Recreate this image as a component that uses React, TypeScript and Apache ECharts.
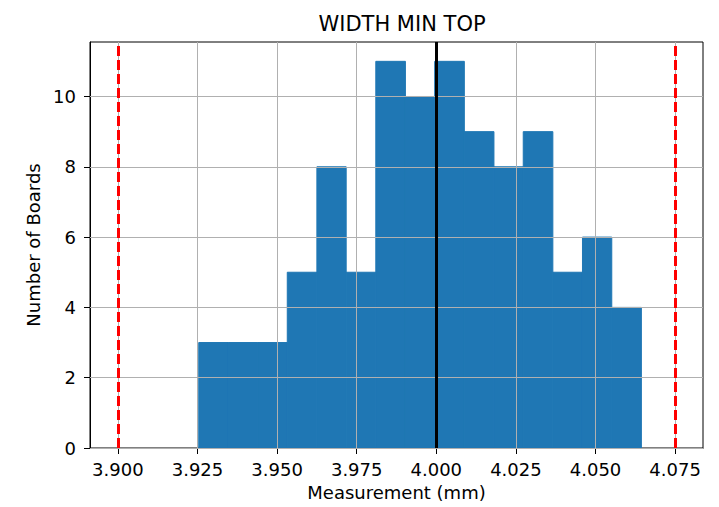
import React, { useEffect, useRef } from "react";
import * as echarts from "echarts";

const binEdges = [
  3.9254, 3.9347, 3.9439, 3.9532, 3.9625, 3.9717, 3.981, 3.9903, 3.9995,
  4.0088, 4.0181, 4.0273, 4.0366, 4.0459, 4.0551, 4.0644,
];
const counts = [3, 3, 3, 5, 8, 5, 11, 10, 11, 9, 8, 9, 5, 6, 4];
const xTicks = [3.9, 3.925, 3.95, 3.975, 4.0, 4.025, 4.05, 4.075];
const yTicks = [0, 2, 4, 6, 8, 10];
const specLimits = [3.9, 4.075];
const nominal = 4.0;
const xRange = [3.89125, 4.08375];
const yRange = [0, 11.55];

const FONT = "DejaVu Sans";

export default function App() {
  const ref = useRef<HTMLDivElement>(null);
  useEffect(() => {
    if (!ref.current) return;
    const chart = echarts.init(ref.current, null, { renderer: "svg" });
    const histData = counts.map((c, i) => [binEdges[i], binEdges[i + 1], c]);
    const gridLineStyle = { color: "#b0b0b0", width: 1, type: "solid" as const };
    chart.setOption({
      animation: false,
      backgroundColor: "#ffffff",
      title: {
        text: "WIDTH MIN TOP",
        left: 397,
        textAlign: "center",
        top: 8,
        textStyle: { fontFamily: FONT, fontSize: 21, fontWeight: "normal", color: "#000" },
      },
      grid: {
        left: 90,
        right: 16,
        top: 42,
        bottom: 59,
        show: true,
        borderColor: "#000",
        borderWidth: 1,
        backgroundColor: "transparent",
      },
      xAxis: {
        type: "value",
        min: xRange[0],
        max: xRange[1],
        name: "Measurement (mm)",
        nameLocation: "middle",
        nameGap: 35,
        nameTextStyle: { fontFamily: FONT, fontSize: 18, color: "#000" },
        axisLine: { show: true, lineStyle: { color: "#000", width: 1 } },
        axisTick: { show: true, inside: false, length: 6, customValues: xTicks, lineStyle: { color: "#000" } },
        axisLabel: {
          customValues: xTicks,
          margin: 12,
          fontFamily: FONT,
          fontSize: 18,
          color: "#000",
          formatter: (v: number) => v.toFixed(3),
        },
        splitLine: { show: false },
      },
      yAxis: {
        type: "value",
        min: yRange[0],
        max: yRange[1],
        name: "Number of Boards",
        nameLocation: "middle",
        nameGap: 46,
        nameRotate: 90,
        nameTextStyle: { fontFamily: FONT, fontSize: 18, color: "#000" },
        axisLine: { show: true, lineStyle: { color: "#000", width: 1 } },
        axisTick: { show: true, inside: false, length: 6, customValues: yTicks, lineStyle: { color: "#000" } },
        axisLabel: {
          customValues: yTicks,
          margin: 14,
          fontFamily: FONT,
          fontSize: 18,
          color: "#000",
          formatter: (v: number) => String(v),
        },
        splitLine: { show: false },
      },
      series: [
        {
          type: "custom",
          z: 2,
          silent: true,
          data: histData,
          encode: { x: [0, 1], y: 2 },
          renderItem: (params: any, api: any) => {
            const p0 = api.coord([api.value(0), api.value(2)]);
            const p1 = api.coord([api.value(1), 0]);
            return {
              type: "rect",
              shape: { x: p0[0], y: p0[1], width: p1[0] - p0[0], height: p1[1] - p0[1] },
              style: { fill: "#1f77b4", stroke: "#1f77b4", lineWidth: 1 },
            };
          },
        },
        {
          type: "scatter",
          z: 3,
          silent: true,
          data: [],
          markLine: {
            silent: true,
            precision: 10,
            symbol: ["none", "none"],
            label: { show: false },
            lineStyle: gridLineStyle,
            emphasis: { disabled: true },
            data: [
              ...xTicks.map((v) => ({ xAxis: v })),
              ...yTicks.map((v) => ({ yAxis: v })),
            ],
          },
        },
        {
          type: "scatter",
          z: 4,
          silent: true,
          data: [],
          markLine: {
            silent: true,
            precision: 10,
            symbol: ["none", "none"],
            label: { show: false },
            emphasis: { disabled: true },
            data: [
              ...specLimits.map((v) => ({
                xAxis: v,
                lineStyle: { color: "#ff0000", width: 3, type: [10, 4] },
              })),
              { xAxis: nominal, lineStyle: { color: "#000000", width: 3, type: "solid" } },
            ],
          },
        },
      ],
    });
    return () => chart.dispose();
  }, []);
  return (
    <div
      ref={ref}
      style={{ position: "fixed", left: 0, top: 0, width: 719, height: 507 }}
    />
  );
}
